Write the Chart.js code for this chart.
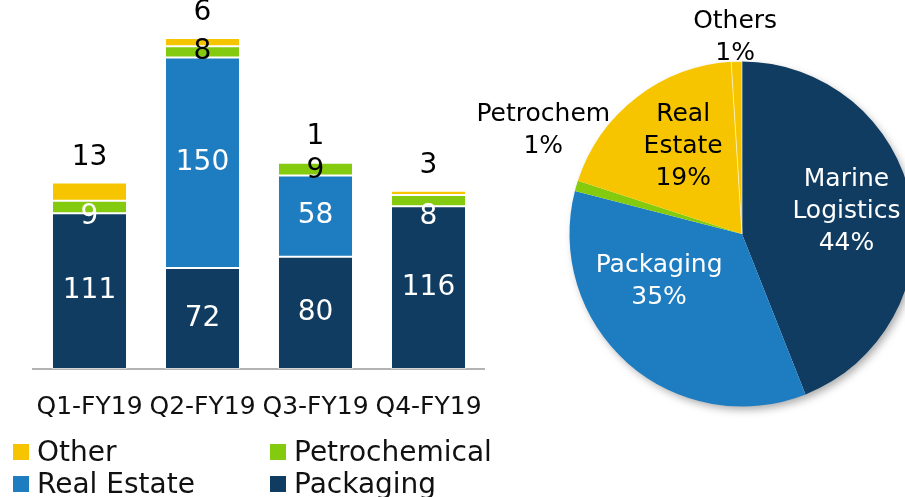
<!DOCTYPE html>
<html lang="en">
<head>
    <meta charset="UTF-8">
    <title>Revenue by Segment</title>
    <script src="https://cdn.jsdelivr.net/npm/chart.js"></script>
    <style>
        html, body { margin: 0; padding: 0; background: #fff; overflow: hidden; width: 905px; height: 497px; }
        body { position: relative; font-family: "DejaVu Sans", sans-serif; }
        #barChart { position: absolute; left: 0; top: 0; }
        #pieChart { position: absolute; left: 460px; top: 0; }
        .legend { position: absolute; left: 13px; top: 436px; display: grid; grid-template-columns: 257px 240px; row-gap: 0; }
        .legend div { display: flex; align-items: center; font-size: 28px; line-height: 32px; color: #111; white-space: nowrap; }
        .legend span { display: inline-block; width: 16px; height: 16px; margin-right: 8px; }
    </style>
</head>
<body>

<canvas id="barChart" width="485" height="420"></canvas>
<canvas id="pieChart" width="470" height="468"></canvas>
<div class="legend" id="legend"></div>

<script>
// Quarterly revenue by segment
const quarters = ['Q1-FY19', 'Q2-FY19', 'Q3-FY19', 'Q4-FY19'];
const packaging = [111, 72, 80, 116];
const realEstate = [0, 150, 58, 0];
const petrochemical = [9, 8, 9, 8];
const other = [13, 6, 1, 3];

// Full-year share (%)
const pieLabels = [['Marine', 'Logistics'], ['Packaging'], ['Petrochem'], ['Real', 'Estate'], ['Others']];
const pieShares = [44, 35, 1, 19, 1];

const NAVY = '#0f3c60';
const BLUE = '#1e7cc1';
const GREEN = '#84cb10';
const YELLOW = '#f6c500';
const FONT = '"DejaVu Sans", sans-serif';

// labels inside / on top of the stacked bars
const petroShift = [10, 0, 2, 16];
const petroColor = ['#fff', '#000', '#000', '#fff'];

const barLabels = {
    id: 'barLabels',
    afterDatasetsDraw(chart) {
        const ctx = chart.ctx;
        ctx.save();
        ctx.font = '28px ' + FONT;
        ctx.textAlign = 'center';
        ctx.textBaseline = 'middle';
        chart.data.datasets.forEach((ds, di) => {
            chart.getDatasetMeta(di).data.forEach((bar, i) => {
                const v = ds.data[i];
                if (!v) return;
                let y = (bar.y + bar.base) / 2;
                let color = '#fff';
                if (ds.label === 'Petrochemical') {
                    y += petroShift[i];
                    color = petroColor[i];
                } else if (ds.label === 'Other') {
                    y = bar.y - 25;
                    color = '#000';
                }
                ctx.fillStyle = color;
                ctx.fillText(String(v), bar.x, y);
            });
        });
        ctx.restore();
    }
};

new Chart(document.getElementById('barChart'), {
    type: 'bar',
    data: {
        labels: quarters,
        datasets: [
            { label: 'Packaging', data: packaging, backgroundColor: NAVY },
            { label: 'Real Estate', data: realEstate, backgroundColor: BLUE },
            { label: 'Petrochemical', data: petrochemical, backgroundColor: GREEN },
            { label: 'Other', data: other, backgroundColor: YELLOW }
        ]
    },
    options: {
        responsive: false,
        animation: false,
        layout: { padding: { left: 33, right: 0, top: 0, bottom: 0 } },
        datasets: { bar: { categoryPercentage: 1, barPercentage: 0.664, borderWidth: 1, borderColor: 'rgba(255,255,255,0.45)', borderSkipped: false } },
        plugins: { legend: { display: false }, tooltip: { enabled: false } },
        scales: {
            x: {
                stacked: true,
                grid: { display: false, drawTicks: false },
                border: { color: '#b3b3b3', width: 2 },
                ticks: { color: '#111', font: { family: FONT, size: 25 }, padding: 23, maxRotation: 0 },
                afterFit: s => { s.height = 51; s.paddingLeft = 0; s.paddingRight = 0; }
            },
            y: { stacked: true, display: false, min: 0, max: 263 }
        }
    },
    plugins: [barLabels]
});

// legend in the same order as the reference
const legendItems = [['Other', YELLOW], ['Petrochemical', GREEN], ['Real Estate', BLUE], ['Packaging', NAVY]];
document.getElementById('legend').innerHTML = legendItems
    .map(([name, c]) => `<div><span style="background:${c}"></span>${name}</div>`).join('');

// pie: shadow + labels
const labelPlace = [[-1.6, 0.62], [18.6, 0.555], [11.4, 1.30], [3.8, 0.61], [-0.2, 1.14]];
const labelColor = ['#fff', '#fff', '#000', '#000', '#000'];

const pieExtras = {
    id: 'pieExtras',
    beforeDatasetsDraw(chart) {
        const a = chart.getDatasetMeta(0).data[0];
        const ctx = chart.ctx;
        ctx.save();
        ctx.shadowColor = 'rgba(0,0,0,0.35)';
        ctx.shadowBlur = 9;
        ctx.shadowOffsetX = 3;
        ctx.shadowOffsetY = 4;
        ctx.fillStyle = '#fff';
        ctx.beginPath();
        ctx.arc(a.x, a.y, a.outerRadius - 1, 0, Math.PI * 2);
        ctx.fill();
        ctx.restore();
    },
    afterDatasetsDraw(chart) {
        const ctx = chart.ctx;
        ctx.save();
        ctx.font = '25px ' + FONT;
        ctx.textAlign = 'center';
        ctx.textBaseline = 'middle';
        chart.getDatasetMeta(0).data.forEach((arc, i) => {
            const mid = (arc.startAngle + arc.endAngle) / 2 + labelPlace[i][0] * Math.PI / 180;
            const r = arc.outerRadius * labelPlace[i][1];
            const cx = arc.x + Math.cos(mid) * r;
            const cy = arc.y + Math.sin(mid) * r;
            const lines = pieLabels[i].concat([pieShares[i] + '%']);
            const lh = 32;
            ctx.fillStyle = labelColor[i];
            lines.forEach((t, k) => {
                ctx.fillText(t, cx, cy + (k - (lines.length - 1) / 2) * lh);
            });
        });
        ctx.restore();
    }
};

new Chart(document.getElementById('pieChart'), {
    type: 'pie',
    data: {
        labels: pieLabels.map(l => l.join(' ')),
        datasets: [{
            data: pieShares,
            backgroundColor: [NAVY, BLUE, GREEN, YELLOW, YELLOW],
            borderWidth: [0, 0, 0, 0, 1],
            borderColor: 'rgba(255,255,255,0.6)'
        }]
    },
    options: {
        responsive: false,
        animation: false,
        layout: { padding: { left: 109, right: 15, top: 61, bottom: 61 } },
        plugins: { legend: { display: false }, tooltip: { enabled: false } }
    },
    plugins: [pieExtras]
});
</script>

</body>
</html>
